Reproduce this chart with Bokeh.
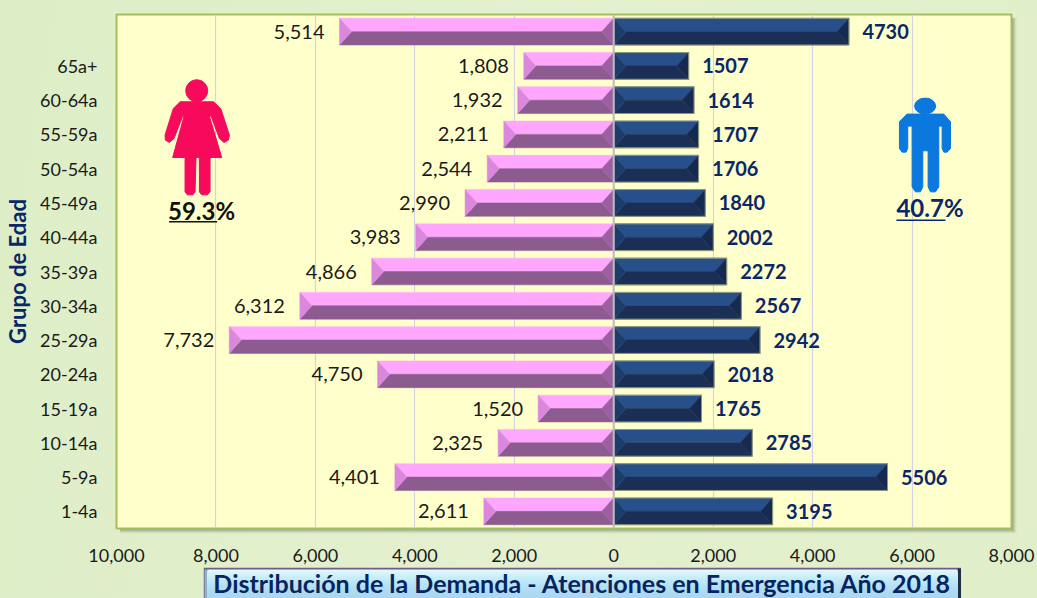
from bokeh.plotting import figure
from bokeh.embed import file_html
from bokeh.resources import INLINE
from bokeh.models import FixedTicker, ColumnDataSource
from bokeh.core.properties import value

ages = ["1-4a","5-9a","10-14a","15-19a","20-24a","25-29a","30-34a","35-39a","40-44a","45-49a","50-54a","55-59a","60-64a","65a+",""]
mujeres = [2611,4401,2325,1520,4750,7732,6312,4866,3983,2990,2544,2211,1932,1808,5514]
hombres = [3195,5506,2785,1765,2018,2942,2567,2272,2002,1840,1706,1707,1614,1507,4730]
x_ticks = [-10000,-8000,-6000,-4000,-2000,0,2000,4000,6000,8000]
titulo = "Distribución de la Demanda - Atenciones en Emergencia Año 2018"
y_titulo = "Grupo de Edad"

W, H = 1037, 598
L, R, T, B = 116.5, 1011, 14.5, 528
FONT = "Lato"
NAVY = "#0A2768"

def pixel_fig(w, h, left, top):
    f = figure(width=w, height=h, x_range=(left, left+w), y_range=(top+h, top), output_backend="svg",
               toolbar_location=None, x_axis_location=None, y_axis_location=None,
               min_border=0, min_border_left=0, min_border_right=0, min_border_top=0, min_border_bottom=0)
    f.styles = {"position": "fixed", "left": f"{left}px", "top": f"{top}px"}
    f.outline_line_color = None
    f.xgrid.grid_line_color = None
    f.ygrid.grid_line_color = None
    f.background_fill_alpha = 0
    f.border_fill_alpha = 0
    return f

# page background with the frame's soft shadow
bg = pixel_fig(W, H, 0, 0)
bg.styles = {"position": "fixed", "left": "0px", "top": "0px",
             "background": "linear-gradient(100deg,#DDEEC6 0%,#E4F0CF 50%,#E0EFC9 100%)"}
for i, c in reversed(list(enumerate(["#A3B095", "#B8C5A8", "#CBD8B7", "#D9E6C3"]))):
    bg.quad(left=[L+3], right=[R+2+i], top=[T+3], bottom=[B+2+i], fill_color=c, line_color=None)

p = figure(width=W, height=H, x_range=(-10000, 8000), y_range=(-0.5, 14.5),
           output_backend="svg", toolbar_location=None,
           min_border_left=int(L), min_border_right=int(W-R), min_border_top=int(T), min_border_bottom=int(H-B))
p.styles = {"position": "fixed", "left": "0px", "top": "0px"}
p.border_fill_alpha = 0
p.background_fill_color = "#FFFFCC"
p.outline_line_color = "#A2BF5E"
p.outline_line_width = 2

sx = (R - L) / 18000.0
sy = (B - T) / 15.0
X = lambda px: -10000 + (px - L) / sx
Y = lambda py: -0.5 + (B - py) / sy

# axes
p.xaxis.ticker = FixedTicker(ticks=x_ticks)
p.xaxis.major_label_overrides = {t: f"{abs(t):,}" for t in x_ticks}
p.yaxis.ticker = FixedTicker(ticks=list(range(15)))
p.yaxis.major_label_overrides = {i: a for i, a in enumerate(ages)}
for ax in (p.xaxis[0], p.yaxis[0]):
    ax.major_tick_line_color = None
    ax.minor_tick_line_color = None
    ax.axis_line_color = None
    ax.major_label_text_font = FONT
    ax.major_label_text_font_size = "18px"
    ax.major_label_text_color = "#1A1A1A"
p.xaxis.major_label_standoff = 14
p.yaxis.major_label_standoff = 13
p.yaxis.axis_label = y_titulo
p.yaxis.axis_label_text_font = FONT
p.yaxis.axis_label_text_font_style = "bold"
p.yaxis.axis_label_text_font_size = "22px"
p.yaxis.axis_label_text_color = NAVY
p.yaxis.axis_label_standoff = 6
p.ygrid.grid_line_color = None
p.xgrid.grid_line_color = "#D3D3E3"
p.xgrid.grid_line_width = 1.2
p.xgrid.ticker = FixedTicker(ticks=x_ticks[1:-1])

h2 = 0.39
bev_x = 12 / sx
ys = list(range(15))

def bars(vals, sign, top, low, end_col, base_col, line=None):
    top_x, top_y, low_x, low_y, end_x, end_y, bs_x, bs_y = [], [], [], [], [], [], [], []
    for y, v in zip(ys, vals):
        e = sign * v
        i_e = e - sign * bev_x
        i_b = sign * bev_x
        top_x.append([0, e, i_e, i_b]); top_y.append([y+h2, y+h2, y, y])
        low_x.append([0, e, i_e, i_b]); low_y.append([y-h2, y-h2, y, y])
        end_x.append([e, i_e, e]); end_y.append([y+h2, y, y-h2])
        bs_x.append([0, i_b, 0]); bs_y.append([y+h2, y, y-h2])
    p.patches(top_x, top_y, fill_color=top, line_color=top, line_width=0.5)
    p.patches(low_x, low_y, fill_color=low, line_color=low, line_width=0.5)
    p.patches(end_x, end_y, fill_color=end_col, line_color=end_col, line_width=0.5)
    p.patches(bs_x, bs_y, fill_color=base_col, line_color=base_col, line_width=0.5)
    if line:
        p.quad(left=[0 for _ in vals], right=[sign*v for v in vals],
               bottom=[y-h2 for y in ys], top=[y+h2 for y in ys],
               fill_color=None, line_color=line, line_width=1)

bars(mujeres, -1, "#FFA6FF", "#8C5B8F", "#DB87DE", "#9C5FA2")
bars(hombres, 1, "#27508A", "#1B2E55", "#16294F", "#1C3C6C", line="#8E9A80")
p.segment([0], [-0.5], [0], [14.5], line_color="#BDBDBD", line_width=2)

# value labels
src_m = ColumnDataSource(dict(x=[-v - 15/sx for v in mujeres], y=ys, t=[f"{v:,}" for v in mujeres]))
src_h = ColumnDataSource(dict(x=[v + 13.5/sx for v in hombres], y=ys, t=[str(v) for v in hombres]))
p.text("x", "y", text="t", source=src_m, text_font=value(FONT), text_font_size="20px",
       text_align="right", text_baseline="middle", text_color="#1A1A1A")
p.text("x", "y", text="t", source=src_h, text_font=value(FONT), text_font_size="20px", text_font_style="bold",
       text_align="left", text_baseline="middle", text_color=NAVY)

# pictograms
woman = [(240,305),(340,305),(362,325),(388,405),(385,420),(372,427),(358,415),(333,348),(328,348),(365,472),(330,472),(330,575),(322,584),(305,584),(298,575),(298,472),(288,472),(285,575),(278,584),(262,584),(255,575),(255,472),(218,472),(252,348),(248,348),(222,415),(208,427),(196,420),(195,405),(220,325)]
man = [(1040,342),(1150,342),(1170,365),(1170,445),(1160,456),(1150,456),(1145,445),(1145,378),(1135,378),(1135,560),(1125,575),(1110,575),(1103,560),(1103,452),(1087,452),(1087,560),(1080,575),(1065,575),(1055,560),(1055,378),(1042,378),(1042,445),(1037,456),(1025,456),(1017,445),(1017,365)]
p.patch([X(a/3+100) for a, b in woman], [Y(b/3) for a, b in woman], fill_color="#F70A5C", line_color="#F70A5C")
p.ellipse([X(290/3+100)], [Y(272/3)], width=[22/sx], height=[22/sy], fill_color="#F70A5C", line_color="#F70A5C")
p.patch([X(a/3+560) for a, b in man], [Y(b/3) for a, b in man], fill_color="#0A78DC", line_color="#0A78DC")
p.ellipse([X(1094/3+560)], [Y(318/3)], width=[21/sx], height=[16/sy], fill_color="#0A78DC", line_color="#0A78DC")

p.text([X(168)], [Y(210)], text=["59.3%"], text_font=value(FONT), text_font_size="24px", text_font_style="bold",
       text_baseline="middle", text_color="#111111")
p.segment([X(169)], [Y(221.5)], [X(217)], [Y(221.5)], line_color="#111111", line_width=1.5)
p.text([X(896)], [Y(207)], text=["40.7%"], text_font=value(FONT), text_font_size="24px", text_font_style="bold",
       text_baseline="middle", text_color=NAVY)
p.segment([X(896)], [Y(220)], [X(945)], [Y(220)], line_color=NAVY, line_width=1.5)

# title plate, drawn above the tick labels
bx0, bx1, by0, by1 = 203, 961, 567, 598
t = pixel_fig(bx1-bx0, by1-by0, bx0, by0)
def box(a, b, c, d, col):
    t.quad(left=[a], right=[b], top=[c], bottom=[d], fill_color=col, line_color=None)
box(bx0, bx1, by0, by1, "#6E5E88")
box(bx0+1, bx0+4, by0+2, by1, "#8FB0C8")
box(bx1-4, bx1, by0+1, by1, "#1D2E45")
grad = ["#E2F8FC","#D9F5FB","#D2F2FA","#CBEFF9","#C5ECF8","#C0E9F7","#BCE6F6","#B8E3F5","#B5E0F4","#B2DEF3",
        "#B0DCF2","#AEDAF1","#ACD8F1","#ABD7F0","#AAD6F0"]
n = by1 - (by0 + 2)
for i in range(n):
    box(bx0+4, bx1-4, by0+2+i, by1, grad[min(i*len(grad)//n, len(grad)-1)])
t.text([(bx0+bx1)/2], [582.5], text=[titulo], text_align="center", text_baseline="middle",
       text_font=value(FONT), text_font_style="bold", text_font_size="25px", text_color="#06245F")

open("out.html", "w").write(file_html([bg, p, t], INLINE))
